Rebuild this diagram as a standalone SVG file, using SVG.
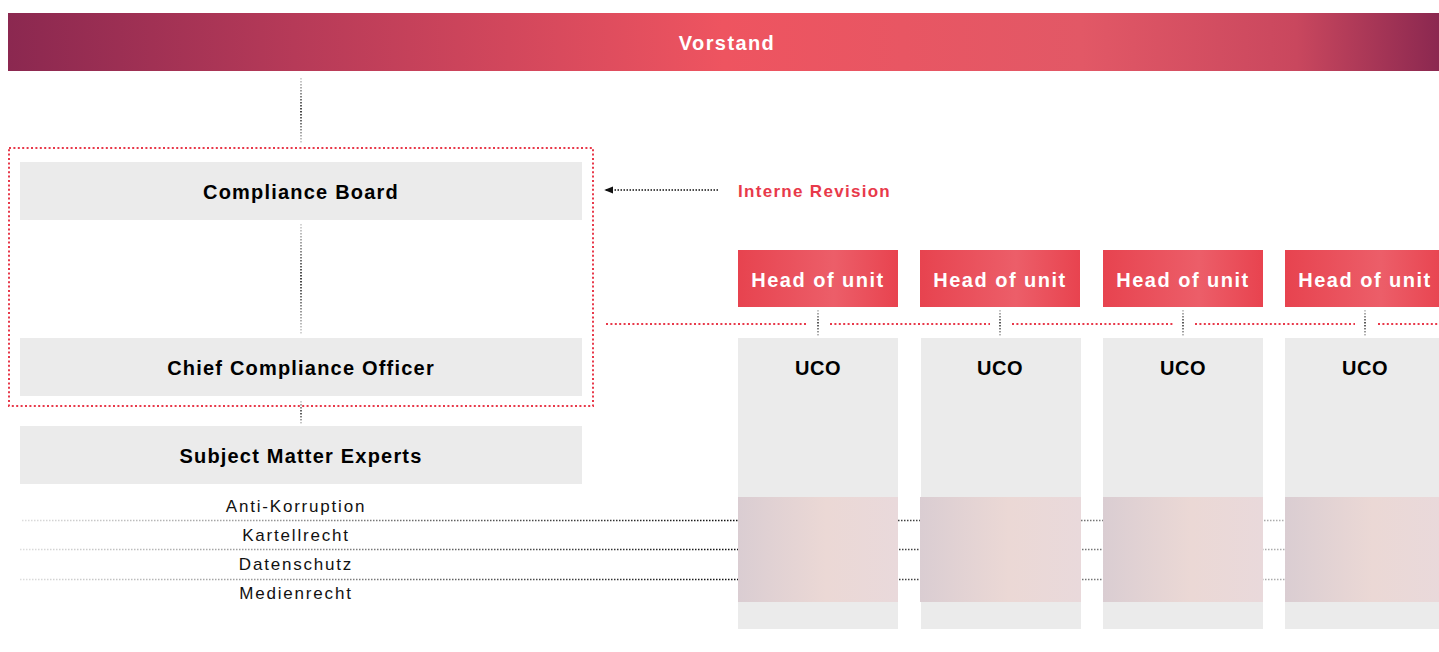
<svg xmlns="http://www.w3.org/2000/svg" width="1439" height="652" viewBox="0 0 1439 652">
<defs>
<linearGradient id="gVor" gradientUnits="userSpaceOnUse" x1="8" y1="60" x2="1439" y2="24">
<stop offset="0" stop-color="#8b2850"/>
<stop offset="0.2" stop-color="#b63a58"/>
<stop offset="0.5" stop-color="#ee5460"/>
<stop offset="0.75" stop-color="#e25866"/>
<stop offset="0.9" stop-color="#c9475e"/>
<stop offset="1" stop-color="#8b2850"/>
</linearGradient>
<linearGradient id="gHead" x1="0" y1="0" x2="1" y2="0">
<stop offset="0" stop-color="#e7434f"/>
<stop offset="0.6" stop-color="#ec5e69"/>
<stop offset="1" stop-color="#e8434f"/>
</linearGradient>
<linearGradient id="gBand" x1="0" y1="0" x2="1" y2="0">
<stop offset="0" stop-color="#dacdd2"/>
<stop offset="0.55" stop-color="#ebd8d5"/>
<stop offset="1" stop-color="#e9d9db"/>
</linearGradient>
<linearGradient id="gV1" gradientUnits="userSpaceOnUse" x1="0" y1="78" x2="0" y2="144">
<stop offset="0" stop-color="#cccccc"/>
<stop offset="0.5" stop-color="#111111"/>
<stop offset="1" stop-color="#cccccc"/>
</linearGradient>
<linearGradient id="gV2" gradientUnits="userSpaceOnUse" x1="0" y1="224" x2="0" y2="334">
<stop offset="0" stop-color="#cccccc"/>
<stop offset="0.5" stop-color="#111111"/>
<stop offset="1" stop-color="#cccccc"/>
</linearGradient>
<linearGradient id="gV3" gradientUnits="userSpaceOnUse" x1="0" y1="401" x2="0" y2="424">
<stop offset="0" stop-color="#cccccc"/>
<stop offset="0.5" stop-color="#222222"/>
<stop offset="1" stop-color="#cccccc"/>
</linearGradient>
<linearGradient id="gV4" gradientUnits="userSpaceOnUse" x1="0" y1="309" x2="0" y2="338">
<stop offset="0" stop-color="#cccccc"/>
<stop offset="0.5" stop-color="#222222"/>
<stop offset="1" stop-color="#cccccc"/>
</linearGradient>
<linearGradient id="gH" gradientUnits="userSpaceOnUse" x1="20" y1="0" x2="1439" y2="0">
<stop offset="0" stop-color="#dddddd"/>
<stop offset="0.5" stop-color="#111111"/>
<stop offset="0.68" stop-color="#555555"/>
<stop offset="1" stop-color="#dddddd"/>
</linearGradient>
<marker id="arr" viewBox="0 0 10 10" refX="8" refY="5" markerWidth="6" markerHeight="6" orient="auto">
<path d="M0,1 L10,5 L0,9 z" fill="#111"/>
</marker>
<style>
.box{fill:#ebebeb}
.t{font-family:"Liberation Sans",Arial,sans-serif;font-weight:bold;text-anchor:middle;dominant-baseline:central}
.tb{font-size:20px;fill:#000;letter-spacing:1.2px}
.tw{font-size:20px;fill:#fff;letter-spacing:1.5px}
.uco{font-size:20px;fill:#000;letter-spacing:0.6px}
.lbl{font-family:"Liberation Sans",Arial,sans-serif;font-size:17px;fill:#111;text-anchor:middle;dominant-baseline:central;letter-spacing:1.8px}
.red{fill:none;stroke:#e8394a;stroke-width:2;stroke-dasharray:2 2.4}
.vdot{fill:none;stroke-width:1.6;stroke-dasharray:1.5 1.5}
.hdot{fill:none;stroke:url(#gH);stroke-width:1.5;stroke-dasharray:1.5 1.5}
</style>
</defs>

<g id="vorstand">
<rect x="8" y="13" width="1431" height="58" fill="url(#gVor)"/>
<text class="t tw" x="727" y="43" style="letter-spacing:1.4px">Vorstand</text>
</g>

<g id="connectors">
<line class="vdot" x1="301" y1="78" x2="301" y2="144" stroke="url(#gV1)"/>
<line class="vdot" x1="301" y1="224" x2="301" y2="334" stroke="url(#gV2)"/>
<line class="vdot" x1="301" y1="401" x2="301" y2="424" stroke="url(#gV3)"/>
<rect class="red" x="9" y="148" width="584" height="258"/>
<line x1="718" y1="190" x2="606" y2="190" stroke="#111" stroke-width="1.5" stroke-dasharray="1.5 1.5" marker-end="url(#arr)"/>
<path class="red" d="M606,324 H808 M830,324 H990 M1012,324 H1173 M1195,324 H1355 M1378,324 H1439"/>
<line class="vdot" x1="818" y1="310" x2="818" y2="337" stroke="url(#gV4)"/>
<line class="vdot" x1="1000" y1="310" x2="1000" y2="337" stroke="url(#gV4)"/>
<line class="vdot" x1="1183" y1="310" x2="1183" y2="337" stroke="url(#gV4)"/>
<line class="vdot" x1="1365" y1="310" x2="1365" y2="337" stroke="url(#gV4)"/>
<line class="hdot" x1="22" y1="520.5" x2="1439" y2="520.5"/>
<line class="hdot" x1="20" y1="549.5" x2="1439" y2="549.5"/>
<line class="hdot" x1="20" y1="579.5" x2="1439" y2="579.5"/>
</g>

<g id="compliance-board">
<rect class="box" x="20" y="162" width="562" height="58"/>
<text class="t tb" x="301" y="192">Compliance Board</text>
</g>
<g id="cco">
<rect class="box" x="20" y="338" width="562" height="58"/>
<text class="t tb" x="301" y="368">Chief Compliance Officer</text>
</g>
<g id="sme">
<rect class="box" x="20" y="426" width="562" height="58"/>
<text class="t tb" x="301" y="456">Subject Matter Experts</text>
</g>
<g id="sme-topics">
<text class="lbl" x="296" y="506">Anti-Korruption</text>
<text class="lbl" x="296" y="535">Kartellrecht</text>
<text class="lbl" x="296" y="564">Datenschutz</text>
<text class="lbl" x="296" y="593">Medienrecht</text>
</g>
<g id="interne-revision">
<text x="738" y="191" style="font-family:'Liberation Sans',Arial,sans-serif;font-weight:bold;font-size:17px;fill:#e8394a;dominant-baseline:central;letter-spacing:1.3px">Interne Revision</text>
</g>

<g id="unit1">
<rect x="738" y="250" width="160" height="57" fill="url(#gHead)"/>
<text class="t tw" x="818" y="280">Head of unit</text>
<rect class="box" x="738" y="338" width="160" height="291"/>
<rect x="738" y="497" width="160" height="105" fill="url(#gBand)"/>
<text class="t uco" x="818" y="368">UCO</text>
</g>
<g id="unit2">
<rect x="920" y="250" width="160" height="57" fill="url(#gHead)"/>
<text class="t tw" x="1000" y="280">Head of unit</text>
<rect class="box" x="921" y="338" width="160" height="291"/>
<rect x="920" y="497" width="161" height="105" fill="url(#gBand)"/>
<text class="t uco" x="1000" y="368">UCO</text>
</g>
<g id="unit3">
<rect x="1103" y="250" width="160" height="57" fill="url(#gHead)"/>
<text class="t tw" x="1183" y="280">Head of unit</text>
<rect class="box" x="1103" y="338" width="160" height="291"/>
<rect x="1103" y="497" width="160" height="105" fill="url(#gBand)"/>
<text class="t uco" x="1183" y="368">UCO</text>
</g>
<g id="unit4">
<rect x="1285" y="250" width="160" height="57" fill="url(#gHead)"/>
<text class="t tw" x="1365" y="280">Head of unit</text>
<rect class="box" x="1285" y="338" width="160" height="291"/>
<rect x="1285" y="497" width="160" height="105" fill="url(#gBand)"/>
<text class="t uco" x="1365" y="368">UCO</text>
</g>
</svg>
